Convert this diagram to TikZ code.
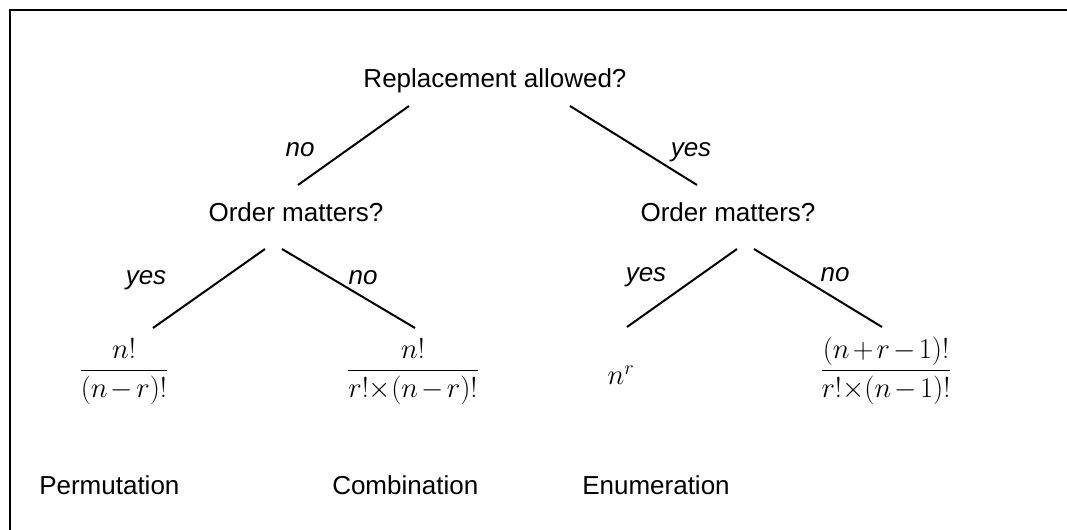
\RequirePackage{fix-cm}
\documentclass[tikz,border=0pt]{standalone}
\usepackage{amsmath}
\usepackage{fontspec}
\setmainfont{Liberation Sans}
\usepackage{tikz}
\usetikzlibrary{positioning,calc}
\newcommand{\tightmu}{\medmuskip=2mu\relax}

\begin{document}
\begin{tikzpicture}[x=0.75pt,y=-0.75pt,
    every node/.style={inner sep=0pt,font=\fontsize{19.5}{23}\selectfont},
    question/.style={anchor=base},
    answer/.style={anchor=base,font=\fontsize{19.5}{23}\selectfont\itshape},
    formula/.style={anchor=base,font=\fontsize{21.5}{26}\selectfont\tightmu},
    kind/.style={anchor=base west},
    branch/.style={line width=1.5pt}]
    \clip (0,0) rectangle (1067,530);
    \draw[line width=1.5pt] (10,10) rectangle (1100,560);
    % questions
    \node[question] (replace) at (495,88) {Replacement allowed?};
    \node[question] (orderNo) at (296,222) {Order matters?};
    \node[question] (orderYes) at (728,222) {Order matters?};
    % results
    \node[formula] (perm) at (124,378) {$\displaystyle\frac{n!}{(n-r)!}$};
    \node[formula] (comb) at (413,378) {$\displaystyle\frac{n!}{r!{\times}(n-r)!}$};
    \node[formula] (enum) at (621,385) {$n^r$};
    \node[formula] (multi) at (886,378) {$\displaystyle\frac{(n+r-1)!}{r!{\times}(n-1)!}$};
    % branches
    \draw[branch] ($(replace.base)+(-86,18)$) -- ($(orderNo.base)+(2,-37)$);
    \draw[branch] ($(replace.base)+(75,18)$) -- ($(orderYes.base)+(-31,-37)$);
    \draw[branch] ($(orderNo.base)+(-31,27)$) -- ($(perm.base)+(29,-50)$);
    \draw[branch] ($(orderNo.base)+(-14,27)$) -- ($(comb.base)+(2,-50)$);
    \draw[branch] ($(orderYes.base)+(9,27)$) -- ($(enum.base)+(6,-58)$);
    \draw[branch] ($(orderYes.base)+(26,27)$) -- ($(multi.base)+(-4,-51)$);
    % branch labels
    \node[answer] (noTop) at (300,157) {no};
    \node[answer] (yesTop) at (691,157) {yes};
    \node[answer] (yesLeft) at (146,285) {yes};
    \node[answer] (noLeft) at (363,285) {no};
    \node[answer] (yesRight) at (646,282) {yes};
    \node[answer] (noRight) at (835,282) {no};
    % names
    \node[kind] (permName) at (39,494) {Permutation};
    \node[kind] (combName) at (332,494) {Combination};
    \node[kind] (enumName) at (582,494) {Enumeration};
\end{tikzpicture}
\end{document}
